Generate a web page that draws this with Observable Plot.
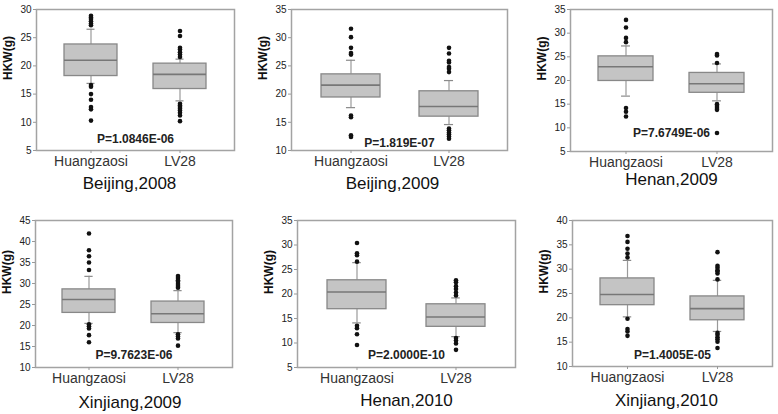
<!DOCTYPE html>
<html>
<head>
<meta charset="utf-8">
<script src="https://cdn.jsdelivr.net/npm/d3@7"></script>
<script src="https://cdn.jsdelivr.net/npm/@observablehq/plot@0.6"></script>
<style>
  html, body { margin: 0; padding: 0; background: #fff; }
  #chart { position: relative; width: 778px; height: 414px; overflow: hidden; background: #fff; }
  #chart > div { position: absolute; }
</style>
</head>
<body>
<div id="chart"></div>
<script>
// ---------- data ----------
const panelTitles = ["Beijing,2008", "Beijing,2009", "Henan,2009", "Xinjiang,2009", "Henan,2010", "Xinjiang,2010"];
const cultivars = ["Huangzaosi", "LV28"];
const yDomains = [[5, 30], [10, 35], [5, 35], [10, 45], [5, 35], [10, 40]];
const pValues = ["P=1.0846E-06", "P=1.819E-07", "P=7.6749E-06", "P=9.7623E-06", "P=2.0000E-10", "P=1.4005E-05"];
// [Huangzaosi, LV28] for each panel
const q1 = [[18.2, 15.9], [19.4, 16.0], [19.9, 17.4], [23.0, 20.6], [16.9, 13.3], [22.6, 19.5]];
const medians = [[21.0, 18.5], [21.6, 17.8], [22.9, 19.3], [26.2, 22.8], [20.4, 15.3], [24.8, 21.9]];
const q3 = [[23.8, 20.4], [23.5, 20.5], [25.1, 21.6], [28.6, 25.7], [22.8, 17.9], [28.1, 24.4]];
const whiskerLow = [[16.9, 13.8], [17.6, 14.6], [16.7, 15.7], [20.5, 18.3], [14.1, 11.3], [20.2, 17.2]];
const whiskerHigh = [[26.5, 21.2], [26.0, 22.4], [27.3, 23.5], [31.7, 28.3], [26.4, 19.2], [31.8, 27.7]];
const outliers = [
  [[27.2, 27.5, 27.9, 28.3, 28.6, 28.9, 16.6, 16.3, 15.0, 14.0, 12.7, 12.3, 10.3],
   [21.6, 22.0, 22.4, 22.9, 23.2, 25.3, 26.2, 13.3, 13.0, 12.7, 12.4, 12.1, 11.7, 11.2, 10.2]],
  [[27.0, 27.3, 28.2, 30.1, 31.6, 16.2, 15.9, 12.7, 12.4],
   [23.9, 24.5, 24.8, 25.6, 25.9, 27.2, 28.2, 13.9, 13.6, 13.2, 12.9, 12.5, 12.1]],
  [[28.1, 29.0, 31.2, 32.8, 14.2, 13.4, 12.4],
   [23.7, 25.3, 25.6, 15.0, 14.6, 14.2, 13.8, 8.9]],
  [[33.2, 35.0, 36.5, 37.9, 41.9, 20.3, 19.8, 19.3, 17.7, 16.0],
   [29.0, 29.4, 29.9, 30.4, 30.8, 31.3, 31.8, 17.9, 17.4, 16.9, 15.2]],
  [[26.6, 27.9, 28.3, 30.4, 13.5, 13.0, 11.8, 9.6],
   [19.7, 20.3, 21.0, 21.6, 22.4, 22.8, 11.0, 10.5, 9.9, 8.6]],
  [[32.4, 33.2, 34.2, 35.6, 36.8, 19.8, 17.7, 17.2, 16.3],
   [27.9, 29.1, 29.5, 29.8, 30.3, 30.7, 33.5, 16.9, 16.5, 16.0, 15.6, 15.1, 13.8]]
];

// ---------- layout (frame boxes in page pixels) ----------
const frames = [
  {left: 36, right: 234, top: 9, bottom: 150, pDy: 11, titleDy: 33, titleDx: -6},
  {left: 291, right: 507, top: 9, bottom: 150, pDy: 7, titleDy: 33, titleDx: -7},
  {left: 570, right: 772, top: 9, bottom: 151, pDy: 18, titleDy: 28, titleDx: 0},
  {left: 35, right: 232, top: 220, bottom: 367, pDy: 12, titleDy: 35, titleDx: -4},
  {left: 297, right: 515, top: 220, bottom: 367, pDy: 12, titleDy: 33, titleDx: 0},
  {left: 572, right: 772, top: 220, bottom: 366, pDy: 11, titleDy: 34, titleDx: -6}
];
const mL = 40, mT = 10, mR = 5, mB = 48;
const font = "'Liberation Sans', Arial, Helvetica, sans-serif";
const chart = document.getElementById("chart");

panelTitles.forEach((title, i) => {
  const f = frames[i];
  const W = f.right - f.left, H = f.bottom - f.top;
  const rows = cultivars.map((c, j) => ({
    cultivar: c, q1: q1[i][j], med: medians[i][j], q3: q3[i][j],
    wl: whiskerLow[i][j], wh: whiskerHigh[i][j]
  }));
  const caps = rows.flatMap(r => [{cultivar: r.cultivar, y: r.wl}, {cultivar: r.cultivar, y: r.wh}]);
  const pts = cultivars.flatMap((c, j) => outliers[i][j].map(v => ({cultivar: c, v})));
  const bw = 0.6 * W / 2.2;
  const capInset = Math.max(0, (bw - 9) / 2);
  const [y0, y1] = yDomains[i];

  const svg = Plot.plot({
    width: W + mL + mR,
    height: H + mT + mB,
    marginLeft: mL, marginTop: mT, marginRight: mR, marginBottom: mB,
    style: {fontFamily: font, fontSize: "10px", color: "#222", background: "transparent", overflow: "visible"},
    x: {type: "band", domain: cultivars, paddingInner: 0.4, paddingOuter: 0.3, align: 0.5},
    y: {domain: yDomains[i]},
    marks: [
      Plot.ruleX(rows, {x: "cultivar", y1: "q3", y2: "wh", stroke: "#9a9a9a", strokeWidth: 1.2}),
      Plot.ruleX(rows, {x: "cultivar", y1: "wl", y2: "q1", stroke: "#9a9a9a", strokeWidth: 1.2}),
      Plot.tickY(caps, {x: "cultivar", y: "y", stroke: "#8a8a8a", strokeWidth: 1.2, insetLeft: capInset, insetRight: capInset}),
      Plot.barY(rows, {x: "cultivar", y1: "q1", y2: "q3", fill: "#c4c4c4", stroke: "#888", strokeWidth: 1.3}),
      Plot.tickY(rows, {x: "cultivar", y: "med", stroke: "#777", strokeWidth: 1.6}),
      Plot.dot(pts, {x: "cultivar", y: "v", r: 2.3, fill: "#111", stroke: null}),
      Plot.frame({stroke: "#a3a3a3", strokeWidth: 1.5}),
      Plot.axisY({ticks: d3.range(y0, y1 + 1, 5), tickSize: 3, tickPadding: 2, fontSize: 10, fill: "#222", stroke: "#999", label: null}),
      Plot.axisX({tickSize: 3, tickPadding: 3, fontSize: 14, fill: "#333", stroke: "#999", label: null}),
      Plot.text(["HKW(g)"], {frameAnchor: "left", rotate: -90, dx: -28, fontSize: 12, fontWeight: "bold", fill: "#111"}),
      Plot.text([pValues[i]], {frameAnchor: "bottom", dy: -f.pDy, lineAnchor: "middle", fontSize: 12, fontWeight: "bold", fill: "#222"}),
      Plot.text([title], {frameAnchor: "bottom", dy: f.titleDy, dx: f.titleDx, lineAnchor: "middle", fontSize: 17, fill: "#111"})
    ]
  });
  const holder = document.createElement("div");
  holder.style.left = (f.left - mL) + "px";
  holder.style.top = (f.top - mT) + "px";
  holder.appendChild(svg);
  chart.appendChild(holder);
});
</script>
</body>
</html>
